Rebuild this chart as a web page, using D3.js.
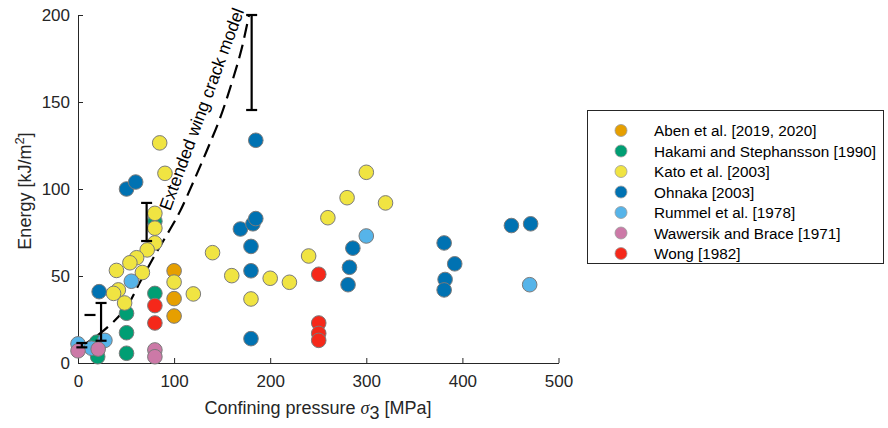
<!DOCTYPE html>
<html><head><meta charset="utf-8">
<script src="https://cdn.jsdelivr.net/npm/d3@7"></script>
<style>
html,body{margin:0;padding:0;background:#fff;}
text{font-family:"Liberation Sans",Arial,Helvetica,sans-serif;}
</style></head>
<body><svg id="chart" width="888" height="428"></svg>
<script>
// ---- data ----
const seriesNames = ["Aben et al. [2019, 2020]","Hakami and Stephansson [1990]","Kato et al. [2003]","Ohnaka [2003]","Rummel et al. [1978]","Wawersik and Brace [1971]","Wong [1982]"];
const seriesColors = ["#E69F00","#009E73","#F0E442","#0072B2","#56B4E9","#CC79A7","#F5281A"];
const aben = [[100,53],[100,37],[100,27]];
const hakami = [[19.5,12],[20.5,3.6],[50.5,28.6],[50.5,17.4],[50.5,5.6],[80,40],[80,81.5]];
const kato = [[85,126.5],[90.5,109],[80,86],[80,77.5],[80,69],[72,65],[61,60.5],[54,57.6],[67,52],[40,53.2],[42,42],[37,40],[48.5,34.5],[100,46.5],[120,39.7],[140,63.4],[160,50.2],[180,36.8],[200,48.7],[220,46.4],[240,61.5],[260,83.5],[280,95],[300,109.6],[320,92]];
const ohnaka = [[22,41],[50.5,100],[60,104],[185,128],[169,77],[182,80],[185,83],[180,67],[180,53],[180,14],[281,45],[282.5,55],[286,66],[381,69],[392,57],[382,48],[381,42],[451,79],[471,80]];
const rummel = [[0,11],[14,8.5],[28,13],[55.5,47],[300,73],[470,45]];
const wawersik = [[0,7],[21,8],[80,7.5],[80,3.6]];
const wong = [[80,33],[80,23],[250.5,51],[250.5,23],[250.5,17],[250.5,13]];
const seriesData = [aben,hakami,kato,ohnaka,rummel,wawersik,wong];
const errorBars = [[180.7,145.4,200],[71.4,70.1,92],[24,12.8,34.5],[4,9,11.5]];
const loneCap = [12.5,27.6];
const wingCrack = [[2,9],[23,17],[49,31],[65,47],[80,62],[96,77],[106,87],[120,104],[134,122],[148,141],[160,161],[170,180],[178,200]];
const xTicks = [0,100,200,300,400,500];
const yTicks = [0,50,100,150,200];

// ---- layout ----
const svg = d3.select("#chart");
const x = d3.scaleLinear().domain([0,500]).range([78,558.5]);
const y = d3.scaleLinear().domain([0,200]).range([363,15]);
const axisColor = "#262626";

// axes
const gx = svg.append("g").attr("transform","translate(0,363)")
  .call(d3.axisBottom(x).tickValues(xTicks).tickSizeInner(-5).tickSizeOuter(0).tickPadding(12));
const gy = svg.append("g").attr("transform","translate(78,0)")
  .call(d3.axisLeft(y).tickValues(yTicks).tickSizeInner(-5).tickSizeOuter(0).tickPadding(8));
[gx,gy].forEach(g=>{
  g.select(".domain").attr("stroke",axisColor).attr("stroke-width",1);
  g.selectAll(".tick line").attr("stroke",axisColor);
  g.selectAll(".tick text").attr("fill",axisColor).attr("font-size",17).attr("font-family","Liberation Sans, Arial, sans-serif");
});

// axis labels
const yl = svg.append("text").attr("transform","translate(31,191) rotate(-90)")
  .attr("text-anchor","middle").attr("font-size",18).attr("fill",axisColor);
yl.append("tspan").text("Energy [kJ/m");
yl.append("tspan").attr("baseline-shift","super").attr("font-size",13).text("2");
yl.append("tspan").text("]");

const xl = svg.append("text").attr("x",318).attr("y",414)
  .attr("text-anchor","middle").attr("font-size",18).attr("fill",axisColor);
xl.append("tspan").text("Confining pressure ");
xl.append("tspan").attr("font-family","Liberation Serif, Times New Roman, serif").attr("font-style","italic").text("σ");
xl.append("tspan").attr("dy",5).text("3");
xl.append("tspan").attr("dy",-5).text(" [MPa]");

// wing crack dashed curve
svg.append("path").datum(wingCrack)
  .attr("d", d3.line().x(d=>x(d[0])).y(d=>y(d[1])).curve(d3.curveCatmullRom))
  .attr("fill","none").attr("stroke","#000").attr("stroke-width",2.2)
  .attr("stroke-dasharray","14,7");
svg.append("text").attr("transform","translate(211,112.5) rotate(-69.7)")
  .attr("text-anchor","middle").attr("font-size",17.5).attr("fill","#000")
  .attr("dy","-4").text("Extended wing crack model");

// points
seriesData.forEach((arr,i)=>{
  svg.append("g").selectAll("circle").data(arr).join("circle")
    .attr("cx",d=>x(d[0])).attr("cy",d=>y(d[1])).attr("r",7.3)
    .attr("fill",seriesColors[i]).attr("stroke","#7a7a7a").attr("stroke-width",1);
});

// error bars
const eb = svg.append("g").attr("stroke","#000").attr("stroke-width",2.2);
errorBars.forEach(d=>{
  eb.append("line").attr("x1",x(d[0])).attr("x2",x(d[0])).attr("y1",y(d[1])).attr("y2",y(d[2]));
  [d[1],d[2]].forEach(v=>eb.append("line").attr("x1",x(d[0])-5.5).attr("x2",x(d[0])+5.5).attr("y1",y(v)).attr("y2",y(v)));
});
eb.append("line").attr("x1",x(loneCap[0])-5.5).attr("x2",x(loneCap[0])+5.5).attr("y1",y(loneCap[1])).attr("y2",y(loneCap[1]));

// legend
const lg = svg.append("g");
lg.append("rect").attr("x",587.5).attr("y",110.5).attr("width",296).attr("height",153)
  .attr("fill","#fff").attr("stroke",axisColor).attr("stroke-width",1);
seriesNames.forEach((n,i)=>{
  const cy = 130.5 + i*20.5;
  lg.append("circle").attr("cx",621).attr("cy",cy).attr("r",6)
    .attr("fill",seriesColors[i]).attr("stroke","#9a9a9a").attr("stroke-width",0.8);
  lg.append("text").attr("x",654).attr("y",cy).attr("dy","0.36em")
    .attr("font-size",15.3).attr("fill","#000").text(n);
});
</script></body></html>
